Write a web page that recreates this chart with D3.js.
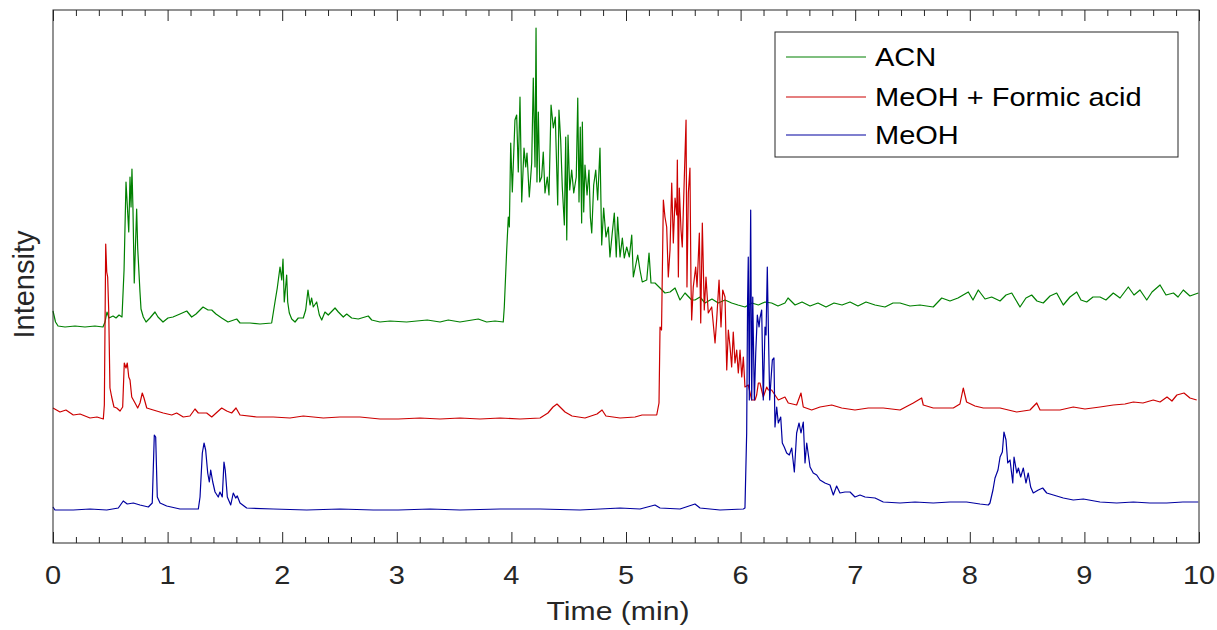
<!DOCTYPE html>
<html><head><meta charset="utf-8">
<script src="https://cdn.jsdelivr.net/npm/d3@7"></script>
<style>body{margin:0;background:#fff}svg{display:block}</style>
</head><body><div id="chart"></div>
<script>
const seriesNames = ["ACN", "MeOH + Formic acid", "MeOH"];
const xTicks = [0,1,2,3,4,5,6,7,8,9,10];
const xLabel = "Time (min)";
const yLabel = "Intensity";

const acnT = [0.000,0.022,0.044,0.105,0.192,0.279,0.366,0.436,0.454,0.471,0.489,0.524,0.550,0.576,0.602,0.620,0.637,0.661,0.672,0.681,0.689,0.698,0.709,0.730,0.739,0.759,0.768,0.788,0.812,0.846,0.890,0.916,0.960,1.003,1.047,1.108,1.167,1.210,1.248,1.309,1.353,1.385,1.422,1.472,1.527,1.603,1.632,1.719,1.806,1.908,1.937,1.957,1.981,1.996,2.007,2.018,2.039,2.048,2.062,2.083,2.112,2.140,2.184,2.205,2.225,2.243,2.257,2.271,2.301,2.324,2.345,2.373,2.402,2.461,2.490,2.533,2.563,2.606,2.664,2.751,2.781,2.853,2.941,3.086,3.174,3.266,3.377,3.449,3.551,3.711,3.784,3.857,3.929,3.938,3.959,3.973,3.982,3.994,4.008,4.031,4.046,4.060,4.075,4.090,4.110,4.125,4.136,4.156,4.177,4.191,4.206,4.215,4.223,4.235,4.247,4.264,4.278,4.293,4.313,4.328,4.346,4.366,4.383,4.404,4.415,4.430,4.444,4.462,4.474,4.483,4.494,4.509,4.526,4.544,4.566,4.579,4.590,4.601,4.613,4.619,4.631,4.642,4.660,4.677,4.689,4.701,4.718,4.736,4.753,4.773,4.788,4.805,4.825,4.846,4.860,4.880,4.898,4.915,4.927,4.948,4.968,4.985,5.006,5.029,5.050,5.064,5.085,5.102,5.122,5.142,5.181,5.201,5.218,5.253,5.297,5.340,5.384,5.428,5.471,5.515,5.573,5.602,5.646,5.689,5.750,5.805,5.864,5.922,5.977,6.038,6.099,6.155,6.213,6.271,6.326,6.387,6.414,6.475,6.536,6.606,6.675,6.745,6.815,6.885,6.955,7.024,7.094,7.173,7.260,7.330,7.391,7.478,7.565,7.681,7.755,7.827,7.897,7.987,8.028,8.074,8.133,8.191,8.264,8.316,8.366,8.438,8.490,8.540,8.586,8.641,8.700,8.758,8.816,8.874,8.933,8.970,9.020,9.075,9.136,9.188,9.252,9.311,9.383,9.433,9.485,9.544,9.590,9.660,9.712,9.777,9.817,9.863,9.921,9.994];
const acnI = [232,221,217,216,217,216,217,216,221,231,225,227,225,228,226,273,361,311,366,336,374,333,260,334,295,251,234,226,221,225,231,226,221,225,226,229,232,226,229,236,233,233,229,225,221,224,220,220,219,220,241,255,276,263,284,241,268,241,230,224,221,225,225,233,253,238,245,236,241,228,223,231,228,235,231,226,229,225,224,227,223,221,222,221,222,223,221,223,221,224,221,222,221,236,293,326,316,400,351,423,428,371,446,341,395,376,390,346,380,465,376,515,361,431,361,366,391,350,366,348,438,415,426,338,433,403,356,318,406,303,408,353,373,350,366,445,341,416,320,421,331,378,348,373,326,310,358,373,343,395,298,335,306,316,286,310,330,286,326,286,305,285,296,286,308,266,278,288,273,261,263,290,260,260,255,250,251,255,243,250,243,243,246,240,244,240,243,240,238,236,240,238,241,240,237,240,245,238,241,237,240,236,240,238,241,237,241,238,236,240,240,237,238,236,245,242,245,251,243,253,244,246,242,248,250,236,245,248,242,240,247,250,238,246,251,243,241,246,246,243,250,245,256,248,253,243,251,258,248,250,246,253,247,250];

const faT = [0.000,0.061,0.113,0.177,0.236,0.323,0.384,0.439,0.448,0.460,0.469,0.477,0.486,0.497,0.512,0.532,0.556,0.585,0.608,0.622,0.637,0.648,0.661,0.672,0.687,0.716,0.739,0.759,0.779,0.794,0.818,0.875,0.962,1.036,1.079,1.137,1.195,1.239,1.268,1.341,1.385,1.472,1.516,1.559,1.597,1.632,1.777,1.922,2.068,2.184,2.359,2.504,2.679,2.853,3.013,3.202,3.377,3.551,3.726,3.901,4.075,4.250,4.319,4.363,4.398,4.433,4.468,4.529,4.642,4.747,4.791,4.825,4.948,5.079,5.140,5.268,5.288,5.297,5.310,5.326,5.340,5.355,5.369,5.384,5.399,5.413,5.428,5.443,5.448,5.457,5.465,5.480,5.491,5.509,5.524,5.532,5.544,5.558,5.567,5.573,5.587,5.608,5.620,5.640,5.652,5.666,5.683,5.698,5.718,5.748,5.777,5.791,5.812,5.829,5.844,5.864,5.879,5.893,5.908,5.922,5.936,5.951,5.966,5.980,5.995,6.010,6.024,6.038,6.067,6.097,6.126,6.140,6.155,6.169,6.198,6.228,6.242,6.271,6.329,6.387,6.416,6.489,6.527,6.547,6.620,6.693,6.795,6.882,6.998,7.114,7.245,7.391,7.507,7.580,7.594,7.681,7.784,7.856,7.914,7.943,7.972,8.045,8.118,8.264,8.409,8.525,8.584,8.613,8.787,8.903,9.005,9.136,9.252,9.354,9.427,9.511,9.601,9.660,9.721,9.764,9.807,9.869,9.921,9.980];
const faI = [135,131,133,128,129,125,126,124,138,299,271,266,233,155,146,136,135,132,136,180,175,180,166,163,146,140,135,140,150,145,135,133,130,128,130,126,127,134,130,130,126,135,132,130,135,128,126,126,125,127,125,126,126,124,124,125,124,125,124,125,124,125,130,136,139,135,131,127,125,129,133,127,125,126,128,128,140,216,213,343,326,316,266,293,360,300,345,328,383,266,355,313,296,366,423,256,350,375,260,223,256,276,256,310,220,320,233,266,230,236,200,223,263,216,253,246,173,213,196,176,211,180,193,170,193,166,186,156,158,143,143,148,160,160,146,156,153,153,143,146,140,138,150,136,133,136,138,135,133,135,135,133,140,145,138,135,135,135,139,155,141,137,135,135,131,133,140,133,133,136,134,136,138,139,141,140,143,141,146,142,148,150,145,143];

const meT = [0.000,0.017,0.177,0.323,0.469,0.570,0.613,0.648,0.701,0.759,0.832,0.866,0.884,0.896,0.910,0.934,0.992,1.108,1.268,1.283,1.303,1.318,1.332,1.350,1.364,1.376,1.394,1.414,1.442,1.457,1.477,1.492,1.503,1.521,1.551,1.573,1.594,1.608,1.632,1.690,1.922,2.214,2.504,2.795,3.013,3.290,3.551,3.901,4.250,4.599,4.948,5.122,5.253,5.297,5.471,5.602,5.646,5.820,6.024,6.038,6.053,6.061,6.067,6.076,6.082,6.088,6.097,6.106,6.120,6.132,6.146,6.161,6.169,6.184,6.198,6.213,6.222,6.233,6.242,6.254,6.265,6.277,6.291,6.300,6.315,6.329,6.350,6.364,6.381,6.402,6.425,6.446,6.469,6.489,6.510,6.527,6.547,6.562,6.577,6.606,6.634,6.664,6.693,6.736,6.780,6.809,6.838,6.867,6.911,6.955,6.998,7.042,7.086,7.173,7.245,7.391,7.522,7.681,7.827,7.972,8.089,8.162,8.176,8.202,8.220,8.246,8.264,8.284,8.298,8.316,8.331,8.351,8.375,8.386,8.410,8.424,8.444,8.467,8.490,8.510,8.531,8.554,8.598,8.636,8.671,8.729,8.816,8.903,8.991,9.136,9.282,9.427,9.572,9.718,9.860,9.994];
const meI = [36,33,33,34,33,35,42,39,40,38,36,40,108,106,46,40,37,34,34,46,90,100,93,70,61,73,61,51,46,51,46,81,73,46,38,50,45,47,40,35,34,33,34,33,33,34,33,34,34,33,35,34,38,35,34,39,35,33,34,35,110,243,286,143,246,333,143,246,143,190,228,216,225,233,143,216,208,276,216,143,163,183,185,116,136,120,126,100,96,90,88,95,71,110,120,110,121,80,100,76,70,68,63,60,58,48,57,50,51,51,46,48,46,45,41,40,41,40,41,41,39,38,40,53,65,73,86,91,111,103,80,83,60,86,70,75,66,75,60,70,56,50,53,55,50,48,45,43,44,41,40,41,40,40,41,41];

const colors = ["#008000", "#cc0000", "#0000a0"];
const seriesT = [acnT, faT, meT];
const seriesI = [acnI, faI, meI];

const W = 1217, H = 630;
const m = {left: 53, right: 1199, top: 10, bottom: 543};
const FONT = "'Liberation Sans', Arial, Helvetica, sans-serif";
const axisColor = "#262626";

const svg = d3.select("#chart").append("svg").attr("width", W).attr("height", H);
const x = d3.scaleLinear().domain([0, 10]).range([m.left, m.right]);
const y = d3.scaleLinear().domain([0, 533]).range([m.bottom, m.top]);

const minorTicks = d3.range(0, 10.001, 0.2).filter(v => Math.abs(v - Math.round(v)) > 1e-6);

// lines
const line = d3.line().x(d => x(d[0])).y(d => y(d[1]));
seriesT.forEach((ts, i) => {
  const pts = ts.map((t, k) => [t, seriesI[i][k]]);
  svg.append("path").datum(pts).attr("d", line)
    .attr("fill", "none").attr("stroke", colors[i]).attr("stroke-width", 1.2)
    .attr("stroke-linejoin", "round");
});

// frame
svg.append("rect").attr("x", m.left).attr("y", m.top)
  .attr("width", m.right - m.left).attr("height", m.bottom - m.top)
  .attr("fill", "none").attr("stroke", axisColor).attr("stroke-width", 1);

// bottom axis
const gx = svg.append("g").attr("transform", `translate(0,${m.bottom})`)
  .call(d3.axisBottom(x).tickValues(xTicks).tickSize(-11).tickFormat(""));
gx.select(".domain").remove();
gx.selectAll(".tick line").attr("stroke", axisColor);
const gxm = svg.append("g").attr("transform", `translate(0,${m.bottom})`)
  .call(d3.axisBottom(x).tickValues(minorTicks).tickSize(-6).tickFormat(""));
gxm.select(".domain").remove();
gxm.selectAll(".tick line").attr("stroke", axisColor);

// top axis
const gt = svg.append("g").attr("transform", `translate(0,${m.top})`)
  .call(d3.axisTop(x).tickValues(xTicks).tickSize(-11).tickFormat(""));
gt.select(".domain").remove();
gt.selectAll(".tick line").attr("stroke", axisColor);
const gtm = svg.append("g").attr("transform", `translate(0,${m.top})`)
  .call(d3.axisTop(x).tickValues(minorTicks).tickSize(-6).tickFormat(""));
gtm.select(".domain").remove();
gtm.selectAll(".tick line").attr("stroke", axisColor);

// tick labels
const SX = 1.16;
xTicks.forEach(t => {
  svg.append("text").attr("transform", `translate(${x(t)},584) scale(${SX},1)`)
    .attr("text-anchor", "middle").attr("font-family", FONT).attr("font-size", 25)
    .attr("fill", axisColor).text(d3.format("d")(t));
});

// axis labels
svg.append("text").attr("transform", `translate(618,620) scale(${SX},1)`)
  .attr("text-anchor", "middle").attr("font-family", FONT).attr("font-size", 26)
  .attr("fill", axisColor).text(xLabel);
svg.append("text").attr("transform", `translate(34,${(m.top + m.bottom) / 2 + 8}) rotate(-90)`)
  .attr("text-anchor", "middle").attr("font-family", FONT).attr("font-size", 29)
  .attr("fill", axisColor).text(yLabel);

// legend
const lg = svg.append("g");
lg.append("rect").attr("x", 775).attr("y", 32).attr("width", 403).attr("height", 125)
  .attr("fill", "#fff").attr("stroke", axisColor).attr("stroke-width", 1);
const rowY = [57, 97, 135];
seriesNames.forEach((name, i) => {
  lg.append("line").attr("x1", 786).attr("x2", 866).attr("y1", rowY[i]).attr("y2", rowY[i])
    .attr("stroke", colors[i]).attr("stroke-width", 1.2);
  lg.append("text").attr("transform", `translate(875,${rowY[i] + 9}) scale(${SX},1)`)
    .attr("font-family", FONT).attr("font-size", 25).attr("fill", "#000").text(name);
});
</script></body></html>
